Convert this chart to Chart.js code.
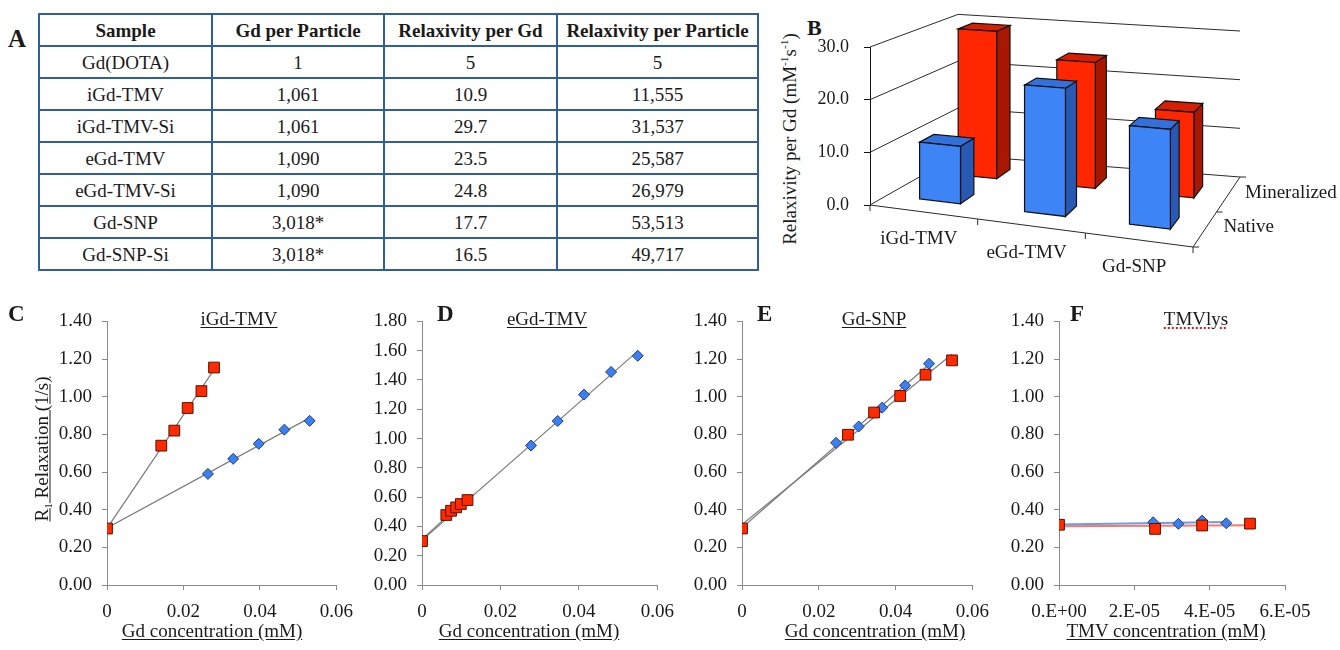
<!DOCTYPE html>
<html><head><meta charset="utf-8">
<script src="https://cdn.jsdelivr.net/npm/chart.js@4.4.1/dist/chart.umd.min.js"></script>
<style>
html,body{margin:0;padding:0;background:#fff;}
body{width:1340px;height:650px;position:relative;overflow:hidden;font-family:'Liberation Serif','Times New Roman',serif;color:#1a1a1a;}
.abs{position:absolute;white-space:nowrap;line-height:1;}
.lett{font-weight:bold;font-size:23px;}
.ttl{font-size:19px;text-decoration:underline;text-underline-offset:2px;transform:translateX(-50%);}
.rot{font-size:19px;transform:translate(-50%,-50%) rotate(-90deg);}
.rot.ul{text-decoration:underline;text-underline-offset:2px;}
sup,sub{font-size:0.6em;line-height:0;}
canvas{position:absolute;}
#tblA{position:absolute;left:38px;top:13px;border-collapse:collapse;table-layout:fixed;width:719px;font-size:19px;}
#tblA td,#tblA th{border:2px solid #2e5e9e;text-align:center;padding:0;height:30px;line-height:1;}
</style></head>
<body>
<div class="abs lett" style="left:8px;top:26px;font-size:25px">A</div>
<table id="tblA"><colgroup><col style="width:173px"><col style="width:172px"><col style="width:173px"><col style="width:201px"></colgroup><tbody id="tbody"></tbody></table>

<div class="abs lett" style="left:807px;top:17px;font-size:22px">B</div>
<div class="abs rot" style="left:789px;top:139px">Relaxivity per Gd (mM<sup>-1</sup>s<sup>-1</sup>)</div>
<canvas id="cB" width="570" height="290" style="left:770px;top:0px"></canvas>

<canvas id="cC" width="347" height="330" style="left:17px;top:300px"></canvas>
<canvas id="cD" width="353" height="330" style="left:332px;top:300px"></canvas>
<canvas id="cE" width="348" height="330" style="left:652px;top:300px"></canvas>
<canvas id="cF" width="356" height="330" style="left:969px;top:300px"></canvas>

<div class="abs lett" style="left:8px;top:302px">C</div>
<div class="abs lett" style="left:437px;top:302px">D</div>
<div class="abs lett" style="left:757px;top:302px">E</div>
<div class="abs lett" style="left:1070px;top:302px">F</div>
<div class="abs ttl" style="left:239px;top:309px">iGd-TMV</div>
<div class="abs ttl" style="left:547px;top:309px">eGd-TMV</div>
<div class="abs ttl" style="left:874px;top:309px">Gd-SNP</div>
<div class="abs ttl" style="left:1196px;top:309px;text-decoration:underline dotted #e01818;text-decoration-thickness:2px">TMVlys</div>
<div class="abs rot ul" style="left:41px;top:449px">R<sub>1</sub> Relaxation (1/s)</div>
<div class="abs ttl" style="left:212px;top:621px">Gd concentration (mM)</div>
<div class="abs ttl" style="left:529px;top:621px">Gd concentration (mM)</div>
<div class="abs ttl" style="left:875px;top:621px">Gd concentration (mM)</div>
<div class="abs ttl" style="left:1166px;top:621px">TMV concentration (mM)</div>

<script>
// A — summary table
const tblHead=['Sample','Gd per Particle','Relaxivity per Gd','Relaxivity per Particle'];
const tblSample=['Gd(DOTA)','iGd-TMV','iGd-TMV-Si','eGd-TMV','eGd-TMV-Si','Gd-SNP','Gd-SNP-Si'];
const tblGd=['1','1,061','1,061','1,090','1,090','3,018*','3,018*'];
const tblRelaxGd=['5','10.9','29.7','23.5','24.8','17.7','16.5'];
const tblRelaxPart=['5','11,555','31,537','25,587','26,979','53,513','49,717'];

// B — relaxivity per Gd, native vs mineralized
const bCats=['iGd-TMV','eGd-TMV','Gd-SNP'];
const bRows=['Native','Mineralized'];
const bNative=[10.9,23.5,17.7];
const bMineral=[29.7,24.8,16.5];
const bTicks=[0,10,20,30];

// C — iGd-TMV
const cNatX=[0,0.0264,0.0330,0.0397,0.0464,0.0530];
const cNatY=[0.30,0.59,0.67,0.75,0.825,0.872];
const cMinX=[0,0.0142,0.0176,0.0211,0.0247,0.0280];
const cMinY=[0.30,0.74,0.82,0.94,1.03,1.155];
// D — eGd-TMV
const dNatX=[0,0.0278,0.0346,0.0413,0.0482,0.0550];
const dNatY=[0.30,0.952,1.12,1.30,1.455,1.565];
const dMinX=[0,0.0062,0.0074,0.0087,0.0099,0.0116];
const dMinY=[0.30,0.478,0.507,0.530,0.553,0.580];
// E — Gd-SNP
const eNatX=[0,0.0245,0.0304,0.0365,0.0425,0.0487];
const eNatY=[0.30,0.755,0.842,0.942,1.06,1.175];
const eMinX=[0,0.0276,0.0344,0.0412,0.0478,0.0547];
const eMinY=[0.30,0.798,0.916,1.004,1.117,1.193];
// F — TMVlys (TMV concentration)
const fNatX=[0,2.50e-5,3.17e-5,3.80e-5,4.44e-5];
const fNatY=[0.32,0.333,0.325,0.342,0.328];
const fMinX=[0,2.55e-5,3.80e-5,5.07e-5];
const fMinY=[0.32,0.298,0.316,0.326];

const gdXTicks=[0,0.02,0.04,0.06], gdXLabels=['0','0.02','0.04','0.06'];
const tmvXTicks=[0,2e-5,4e-5,6e-5], tmvXLabels=['0.E+00','2.E-05','4.E-05','6.E-05'];
const yTicks14=[0,0.2,0.4,0.6,0.8,1.0,1.2,1.4];
const yTicks18=[0,0.2,0.4,0.6,0.8,1.0,1.2,1.4,1.6,1.8];

const SERIF="'Liberation Serif','Times New Roman',serif";
const RED='#ff2a00', BLUE='#3b7ff0', AX='#8a8a8a';

// table rows
const tb=document.getElementById('tbody');
tb.innerHTML='<tr>'+tblHead.map(h=>'<th>'+h+'</th>').join('')+'</tr>'+
  tblSample.map((s,i)=>'<tr><td>'+[s,tblGd[i],tblRelaxGd[i],tblRelaxPart[i]].join('</td><td>')+'</td></tr>').join('');

// B: pseudo-3D boxes drawn off the chart's own y scale
const BW=0.13, BD=0.17, ROWV=[0.2,0.66];
const COLS=[{front:'#3d84f6',top:'#3270dc',side:'#285ab5'},{front:'#ff2600',top:'#d41f00',side:'#a81800'}];
const box3d={id:'box3d',afterDatasetsDraw(chart){
  const {ctx,chartArea:ca,scales:{x:xs,y:ys}}=chart;
  const y0=ys.getPixelForValue(0), L=ca.left, R=ca.right;
  const FL=[L,y0],FR=[R,y0+42],BL=[L+88,y0-50],BR=[R+47,y0-28];
  const P=(u,v,val)=>{
    const fx=FL[0]+(FR[0]-FL[0])*u, fy=FL[1]+(FR[1]-FL[1])*u;
    const bx=BL[0]+(BR[0]-BL[0])*u, by=BL[1]+(BR[1]-BL[1])*u;
    const kf=1+0.12*u, kb=0.89+0.034*u, k=kf+(kb-kf)*v;
    return [fx+(bx-fx)*v, fy+(by-fy)*v-(y0-ys.getPixelForValue(val))*k];
  };
  const line=pts=>{ctx.beginPath();pts.forEach((p,i)=>i?ctx.lineTo(p[0],p[1]):ctx.moveTo(p[0],p[1]));ctx.stroke();};
  const poly=(pts,fill)=>{ctx.beginPath();pts.forEach((p,i)=>i?ctx.lineTo(p[0],p[1]):ctx.moveTo(p[0],p[1]));ctx.closePath();ctx.fillStyle=fill;ctx.fill();ctx.stroke();};
  ctx.save();
  ctx.strokeStyle='#2a2a2a'; ctx.lineWidth=1;
  bTicks.forEach(t=>line([P(0,0,t),P(0,1,t),P(1,1,t)]));
  line([P(0,0,0),P(1,0,0),P(1,1,0)]);
  for(let i=0;i<=bCats.length;i++){const p=P(i/bCats.length,0,0);line([p,[p[0],p[1]+6]]);}
  [0,0.5,1].forEach(v=>{const p=P(1,v,0);line([p,[p[0]+6,p[1]]]);});
  ctx.strokeStyle='#111'; ctx.lineWidth=1.2;
  [1,0].forEach(r=>{
    const vals=chart.data.datasets[r].data, vf=ROWV[r], v1=vf+BD, col=COLS[r];
    vals.forEach((val,i)=>{
      const uc=(xs.getPixelForValue(i)-L)/(R-L), u0=uc-BW/2, u1=uc+BW/2;
      poly([P(u1,vf,0),P(u1,v1,0),P(u1,v1,val),P(u1,vf,val)],col.side);
      poly([P(u0,vf,val),P(u1,vf,val),P(u1,v1,val),P(u0,v1,val)],col.top);
      poly([P(u0,vf,0),P(u1,vf,0),P(u1,vf,val),P(u0,vf,val)],col.front);
    });
  });
  ctx.fillStyle='#1a1a1a'; ctx.font='19px '+SERIF; ctx.textBaseline='middle';
  ctx.textAlign='center';
  bCats.forEach((c,i)=>{const p=P((xs.getPixelForValue(i)-L)/(R-L),0,0);ctx.fillText(c,p[0]-5,p[1]+27);});
  ctx.textAlign='left';
  bRows.forEach((r,i)=>{const p=P(1,ROWV[i]+BD/2,0);ctx.fillText(r,p[0]+17,p[1]-(i?2:0));});
  ctx.restore();
}};

new Chart(document.getElementById('cB'),{type:'bar',
  data:{labels:bCats,datasets:[
    {label:bRows[0],data:bNative,backgroundColor:'rgba(0,0,0,0)',borderWidth:0},
    {label:bRows[1],data:bMineral,backgroundColor:'rgba(0,0,0,0)',borderWidth:0}]},
  options:{responsive:false,animation:false,events:[],
    layout:{padding:{left:0,top:47,right:147,bottom:85}},
    plugins:{legend:{display:false},tooltip:{enabled:false}},
    scales:{x:{display:false},
      y:{min:0,max:30,afterBuildTicks:s=>{s.ticks=bTicks.map(v=>({value:v}));},afterFit:s=>{s.width=100;},
        grid:{drawOnChartArea:false,tickLength:6,color:'#111'},border:{color:'#111'},
        ticks:{callback:v=>v.toFixed(1),font:{family:SERIF,size:18},color:'#1a1a1a',padding:15}}}},
  plugins:[box3d]
});

// C–F scatter panels with least-squares trendlines
function pts(xs,ys){return xs.map((x,i)=>({x,y:ys[i]}));}
function fit(xs,ys){
  const n=xs.length, mx=xs.reduce((a,b)=>a+b)/n, my=ys.reduce((a,b)=>a+b)/n;
  let sxy=0,sxx=0; xs.forEach((x,i)=>{sxy+=(x-mx)*(ys[i]-my);sxx+=(x-mx)*(x-mx);});
  const m=sxy/sxx, b=my-m*mx, x1=Math.max(...xs);
  return [{x:0,y:b},{x:x1,y:b+m*x1}];
}
function panel(id,o){
  new Chart(document.getElementById(id),{type:'scatter',
    data:{datasets:[
      {data:fit(o.natX,o.natY),showLine:true,pointRadius:0,borderColor:o.natLine||'#7c7c7c',borderWidth:o.lw||1.2,order:3},
      {data:fit(o.minX,o.minY),showLine:true,pointRadius:0,borderColor:o.minLine||'#7c7c7c',borderWidth:o.lw||1.2,order:3},
      {data:pts(o.natX,o.natY),pointStyle:'rectRot',pointRadius:5.5,backgroundColor:BLUE,borderColor:'#1f3d80',borderWidth:1,order:2},
      {data:pts(o.minX,o.minY),pointStyle:'rect',pointRadius:7.6,backgroundColor:RED,borderColor:'#5a1000',borderWidth:1,order:1}]},
    options:{responsive:false,animation:false,events:[],
      layout:{padding:{top:19,right:o.padR,left:0,bottom:0}},
      plugins:{legend:{display:false},tooltip:{enabled:false}},
      scales:{
        x:{type:'linear',min:0,max:o.xTicks[o.xTicks.length-1],
          afterBuildTicks:s=>{s.ticks=o.xTicks.map(v=>({value:v}));},afterFit:s=>{s.height=45;},
          grid:{drawOnChartArea:false,tickLength:5,color:AX},border:{color:AX},
          ticks:{callback:(v,i)=>o.xLabels[i],font:{family:SERIF,size:19},color:'#1a1a1a',padding:11,maxRotation:0,autoSkip:false}},
        y:{min:0,max:o.yTicks[o.yTicks.length-1],
          afterBuildTicks:s=>{s.ticks=o.yTicks.map(v=>({value:v}));},afterFit:s=>{s.width=90;},
          grid:{drawOnChartArea:false,tickLength:5,color:AX},border:{color:AX},
          ticks:{callback:v=>v.toFixed(2),font:{family:SERIF,size:19},color:'#1a1a1a',padding:10}}}}
  });
}
panel('cC',{natX:cNatX,natY:cNatY,minX:cMinX,minY:cMinY,xTicks:gdXTicks,xLabels:gdXLabels,yTicks:yTicks14,padR:22});
panel('cD',{natX:dNatX,natY:dNatY,minX:dMinX,minY:dMinY,xTicks:gdXTicks,xLabels:gdXLabels,yTicks:yTicks18,padR:22});
panel('cE',{natX:eNatX,natY:eNatY,minX:eMinX,minY:eMinY,xTicks:gdXTicks,xLabels:gdXLabels,yTicks:yTicks14,padR:22});
panel('cF',{natX:fNatX,natY:fNatY,minX:fMinX,minY:fMinY,xTicks:tmvXTicks,xLabels:tmvXLabels,yTicks:yTicks14,padR:40,
  natLine:'#6f9ae8',minLine:'#f27a6c',lw:2});
</script>
</body></html>
